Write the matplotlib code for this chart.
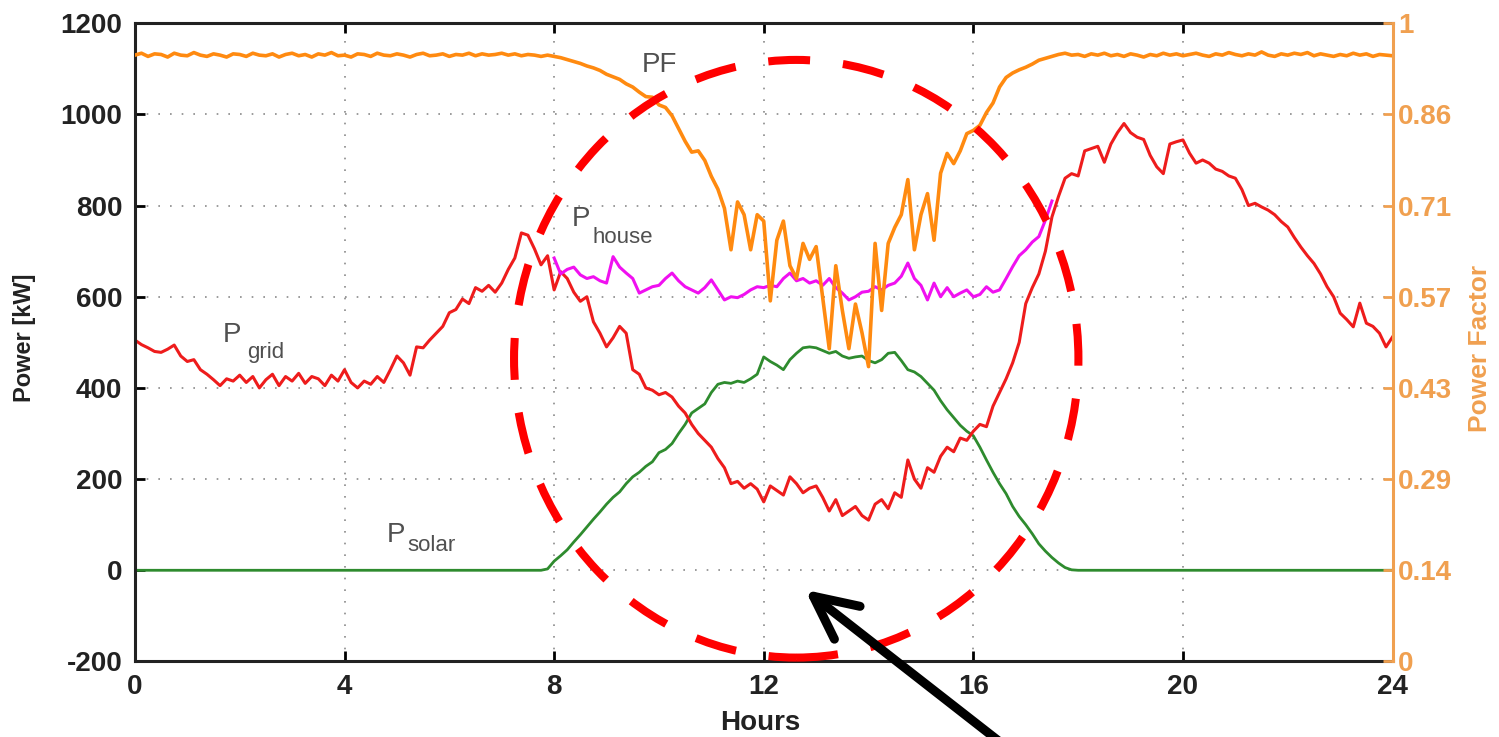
import numpy as np
import matplotlib
matplotlib.use("Agg")
import matplotlib.pyplot as plt
from matplotlib.patches import Ellipse

plt.rcParams['font.family'] = ['Liberation Sans', 'DejaVu Sans']
plt.rcParams['axes.unicode_minus'] = False

# time axis, 7.5 minute steps
hours = np.arange(0, 24.0001, 0.125)

# grid power [kW], 8 values per hour
p_grid = [
    505, 495, 488, 480, 478, 485, 494, 470,
    458, 462, 440, 430, 418, 405, 420, 415,
    428, 412, 425, 400, 418, 430, 405, 425,
    415, 432, 410, 425, 420, 405, 428, 415,
    440, 412, 400, 415, 408, 425, 412, 440,
    470, 455, 428, 490, 488, 505, 520, 535,
    565, 572, 595, 585, 620, 612, 625, 610,
    630, 660, 685, 740, 735, 705, 670, 690,
    615, 655, 640, 610, 590, 600, 545, 520,
    490, 510, 535, 520, 440, 430, 400, 395,
    385, 390, 380, 360, 345, 320, 300, 285,
    270, 245, 225, 190, 195, 180, 190, 178,
    150, 185, 175, 165, 205, 190, 170, 180,
    185, 160, 130, 155, 120, 130, 140, 120,
    110, 145, 155, 135, 170, 160, 242, 200,
    180, 225, 215, 250, 270, 260, 290, 285,
    305, 320, 315, 360, 390, 420, 455, 500,
    585, 620, 650, 700, 775, 820, 860, 870,
    865, 920, 925, 930, 895, 935, 960, 980,
    960, 950, 945, 910, 885, 870, 935, 940,
    944, 915, 893, 900, 893, 880, 875, 865,
    860, 835, 800, 805, 797, 790, 780, 765,
    753, 730, 709, 690, 673, 650, 622, 600,
    564, 550, 534, 586, 542, 535, 520, 490,
    512,
]

p_solar = [
    0, 0, 0, 0, 0, 0, 0, 0,
    0, 0, 0, 0, 0, 0, 0, 0,
    0, 0, 0, 0, 0, 0, 0, 0,
    0, 0, 0, 0, 0, 0, 0, 0,
    0, 0, 0, 0, 0, 0, 0, 0,
    0, 0, 0, 0, 0, 0, 0, 0,
    0, 0, 0, 0, 0, 0, 0, 0,
    0, 0, 0, 0, 0, 0, 0, 3,
    20, 32, 45, 62, 78, 95, 112, 128,
    145, 160, 172, 190, 205, 215, 228, 238,
    258, 265, 278, 300, 320, 345, 355, 365,
    390, 408, 412, 410, 415, 412, 420, 430,
    468, 458, 450, 440, 462, 476, 488, 490,
    488, 482, 476, 480, 470, 465, 468, 470,
    460, 455, 462, 476, 478, 460, 440, 435,
    425, 410, 395, 372, 352, 335, 318, 305,
    295, 270, 242, 215, 190, 168, 140, 118,
    100, 80, 58, 42, 28, 16, 6, 1,
    0, 0, 0, 0, 0, 0, 0, 0,
    0, 0, 0, 0, 0, 0, 0, 0,
    0, 0, 0, 0, 0, 0, 0, 0,
    0, 0, 0, 0, 0, 0, 0, 0,
    0, 0, 0, 0, 0, 0, 0, 0,
    0, 0, 0, 0, 0, 0, 0, 0,
    0,
]

power_factor = [
    .950, .953, .948, .952, .951, .947, .953, .950,
    .949, .954, .950, .948, .952, .950, .947, .952,
    .951, .948, .953, .950, .949, .952, .947, .951,
    .953, .949, .951, .947, .952, .950, .954, .949,
    .950, .947, .952, .951, .948, .953, .950, .949,
    .952, .950, .947, .951, .953, .949, .950, .952,
    .948, .951, .950, .953, .949, .952, .950, .951,
    .953, .950, .952, .949, .951, .950, .948, .950,
    .948, .946, .943, .940, .937, .933, .930, .926,
    .920, .916, .912, .905, .900, .892, .885, .884,
    .872, .868, .855, .835, .815, .798, .800, .785,
    .760, .740, .710, .645, .720, .700, .645, .700,
    .690, .565, .660, .690, .620, .600, .655, .630,
    .650, .570, .490, .620, .550, .490, .560, .515,
    .462, .655, .550, .655, .680, .700, .755, .645,
    .700, .733, .660, .765, .796, .780, .800, .827,
    .832, .840, .860, .875, .900, .915, .922, .927,
    .931, .936, .942, .945, .948, .951, .953, .950,
    .951, .948, .952, .950, .953, .949, .951, .948,
    .952, .950, .947, .951, .949, .953, .950, .952,
    .949, .951, .953, .950, .948, .952, .950, .954,
    .951, .949, .952, .950, .955, .950, .948, .952,
    .950, .953, .951, .954, .949, .952, .950, .948,
    .951, .949, .953, .950, .952, .948, .951, .950,
    .949,
]

# house load only shown while the sun is up
house_hours = np.arange(8.0, 17.5001, 0.125)
p_house = [
    685, 650, 660, 665, 648, 640, 644, 635,
    630, 688, 665, 652, 640, 608, 615, 622,
    625, 640, 652, 635, 622, 615, 608, 620,
    637, 615, 593, 600, 598, 605, 615, 622,
    620, 625, 622, 640, 652, 635, 640, 630,
    635, 625, 640, 620, 608, 593, 600, 610,
    612, 622, 615, 625, 630, 645, 674, 640,
    625, 593, 630, 600, 620, 600, 608, 615,
    600, 605, 622, 610, 615, 640, 666, 690,
    703, 720, 732, 768, 810,
]

power_ticks = [-200, 0, 200, 400, 600, 800, 1000, 1200]
pf_ticks = [0, 1/7, 2/7, 3/7, 4/7, 5/7, 6/7, 1]
pf_labels = ['0', '0.14', '0.29', '0.43', '0.57', '0.71', '0.86', '1']
hour_ticks = [0, 4, 8, 12, 16, 20, 24]

RED = '#ee1c1c'
GREEN = '#2e8b2e'
MAGENTA = '#f010f0'
ORANGE = '#ff8a10'
AX2_COL = '#f0a050'
TXT = '#505050'

fig = plt.figure(figsize=(14.99, 7.37), dpi=100)
ax = fig.add_axes([0.090, 0.1025, 0.839, 0.866])
ax2 = ax.twinx()

ax.plot(hours, p_solar, color=GREEN, lw=2)
ax.plot(hours, p_grid, color=RED, lw=2.2)
ax.plot(house_hours, p_house, color=MAGENTA, lw=2.2)
ax2.plot(hours, power_factor, color=ORANGE, lw=2.6)

ax.set_xlim(0, 24)
ax.set_ylim(-200, 1200)
ax2.set_ylim(0, 1)
ax.set_xticks(hour_ticks)
ax.set_yticks(power_ticks)
ax2.set_yticks(pf_ticks)
ax2.set_yticklabels(pf_labels)

ax.grid(True, linestyle=(0, (1, 6)), color='#8a8a8a', lw=1.2)
ax.tick_params(axis='both', direction='in', length=7, width=2, labelsize=20,
               labelcolor='#222222')
ax.tick_params(axis='x', top=True, pad=9)
ax.tick_params(axis='y', pad=9)
ax2.tick_params(axis='y', direction='in', length=7, width=2, labelsize=20,
                colors=AX2_COL, pad=4)
for lab in ax.get_xticklabels() + ax.get_yticklabels() + ax2.get_yticklabels():
    lab.set_fontweight('bold')

for side in ['left', 'bottom', 'top']:
    ax.spines[side].set_linewidth(2.2)
    ax.spines[side].set_color('#222222')
ax2.spines['right'].set_color(AX2_COL)
ax2.spines['right'].set_linewidth(2.2)
for side in ['left', 'bottom', 'top']:
    ax2.spines[side].set_visible(False)
ax.spines['right'].set_visible(False)

# curve labels
ax.text(1.68, 501, 'P', fontsize=20, color=TXT)
ax.text(2.14, 466, 'grid', fontsize=16, color=TXT)
ax.text(4.80, 62, 'P', fontsize=20, color=TXT)
ax.text(5.20, 43, 'solar', fontsize=16, color=TXT)
ax.text(8.33, 756, 'P', fontsize=20, color=TXT)
ax.text(8.73, 718, 'house', fontsize=16, color=TXT)
ax.text(9.67, 1093, 'PF', fontsize=20, color=TXT)

fig.text(760 / 1499, 1 - 723 / 737, 'Hours', fontsize=20, fontweight='bold',
         color='#222222', ha='center', va='center')
fig.text(25 / 1499, 1 - 338 / 737, 'Power [kW]', fontsize=17, fontweight='bold',
         color='#222222', ha='center', va='center', rotation=90)
fig.text(1480 / 1499, 1 - 348 / 737, 'Power Factor', fontsize=19, fontweight='bold',
         color=AX2_COL, ha='center', va='center', rotation=90)

# highlight of the midday region
ax2.add_patch(Ellipse((12.62, 464), width=10.77, height=1311, fill=False,
                      edgecolor='#ff0000', lw=5.8, linestyle=(0, (5.2, 4.1)),
                      clip_on=False, transform=ax.transData, zorder=5))

ax2.annotate('', xy=(12.79, -43), xycoords=ax.transData,
             xytext=(1003 / 1499, -0.01), textcoords='figure fraction',
             arrowprops=dict(arrowstyle='->,head_length=3.1,head_width=1.5',
                             lw=6.5, color='black', mutation_scale=10,
                             shrinkA=0, shrinkB=0, capstyle='round'),
             annotation_clip=False, zorder=6)

fig.savefig('out.png', dpi=100)
